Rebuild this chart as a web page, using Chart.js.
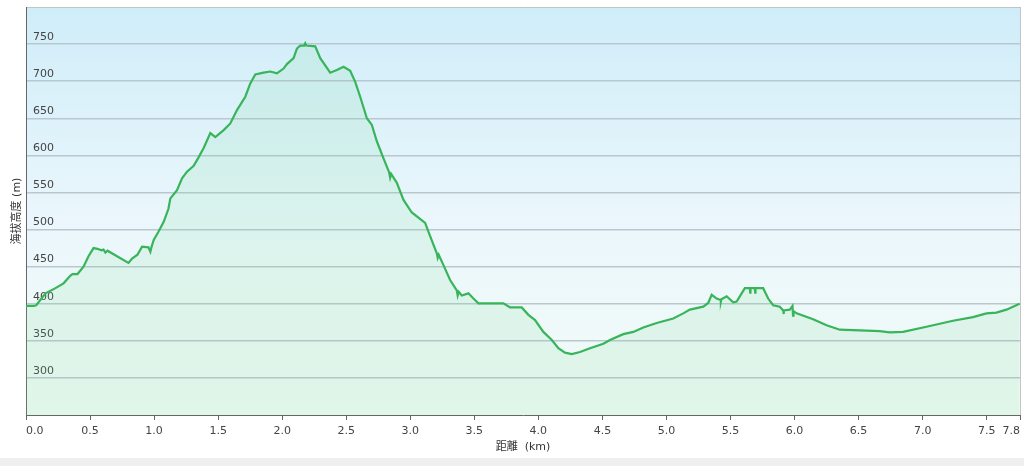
<!DOCTYPE html>
<html>
<head>
<meta charset="utf-8">
<script src="https://cdn.jsdelivr.net/npm/chart.js@4.4.1/dist/chart.umd.min.js"></script>
<style>
  html, body { margin: 0; padding: 0; background: #efefef; }
  #wrap { width: 1024px; height: 458px; background: #ffffff; }
  canvas { display: block; }
</style>
</head>
<body>
<div id="wrap"><canvas id="c" width="1024" height="458"></canvas></div>
<script>
// distance along route (km)
const distanceKm = [
  0.00, 0.06, 0.08, 0.152, 0.230, 0.293, 0.347, 0.363, 0.402, 0.449,
  0.488, 0.527, 0.558, 0.589, 0.605, 0.620, 0.636, 0.800, 0.828, 0.870,
  0.906, 0.956, 0.971, 0.979, 0.997, 1.034, 1.075, 1.112, 1.127, 1.179,
  1.218, 1.257, 1.309, 1.346, 1.387, 1.439, 1.478, 1.543, 1.595, 1.647,
  1.712, 1.751, 1.790, 1.855, 1.907, 1.959, 2.011, 2.037, 2.089, 2.115,
  2.141, 2.172, 2.180, 2.188, 2.258, 2.297, 2.375, 2.427, 2.479, 2.531,
  2.570, 2.609, 2.661, 2.700, 2.739, 2.791, 2.835, 2.843, 2.851, 2.895,
  2.947, 3.012, 3.116, 3.155, 3.207, 3.214, 3.222, 3.259, 3.311, 3.363,
  3.370, 3.378, 3.402, 3.454, 3.493, 3.532, 3.701, 3.727, 3.779, 3.870,
  3.922, 3.974, 4.039, 4.105, 4.156, 4.208, 4.261, 4.325, 4.403, 4.507,
  4.559, 4.663, 4.741, 4.819, 4.924, 5.053, 5.131, 5.183, 5.287, 5.326,
  5.353, 5.392, 5.423, 5.425, 5.429, 5.470, 5.521, 5.548, 5.587, 5.612,
  5.651, 5.654, 5.656, 5.690, 5.693, 5.695, 5.755, 5.794, 5.833, 5.885,
  5.911, 5.914, 5.917, 5.963, 5.984, 5.988, 5.992, 6.016, 6.145, 6.250,
  6.353, 6.457, 6.665, 6.743, 6.847, 7.030, 7.237, 7.393, 7.498, 7.576,
  7.654, 7.757
];
// elevation (m)
const elevationM = [
  397, 397, 398, 414, 421, 427.5, 438, 440, 440, 450,
  464, 475, 474, 472, 473, 469, 471.5, 455, 461, 466,
  477, 476, 470, 476, 486, 497, 510.5, 528, 542, 553,
  569, 578, 586, 597, 610, 630, 624.5, 634, 643, 661,
  679, 697, 709, 711.5, 713, 710.5, 717, 723, 731, 744,
  748, 748, 751, 748, 747, 731, 711.5, 715, 719.5, 714,
  699, 679, 650, 641, 619, 596, 577, 570, 575, 563,
  540, 523, 509, 491, 468, 462, 466, 452, 432, 418,
  411, 416, 411, 414, 407, 400.5, 400.5, 400.5, 395, 395,
  385, 378, 362, 351, 340, 334, 332, 335, 340, 346,
  351, 359, 362, 368, 374, 380, 387, 392, 396, 401,
  412, 407, 405, 403, 406, 410, 402, 403, 414, 421,
  421, 415, 421, 421, 415, 421, 421, 407, 398, 396,
  391, 386, 391, 392, 397, 384, 390, 387, 379, 371,
  365, 364.5, 363, 361.5, 362, 369, 377, 382, 387, 388,
  392, 400
];
// axis ticks
const xTickValues = [0, 0.5, 1.0, 1.5, 2.0, 2.5, 3.0, 3.5, 4.0, 4.5, 5.0, 5.5, 6.0, 6.5, 7.0, 7.5, 7.76];
const xTickLabels = ['0.0', '0.5', '1.0', '1.5', '2.0', '2.5', '3.0', '3.5', '4.0', '4.5', '5.0', '5.5', '6.0', '6.5', '7.0', '7.5', '7.8'];
const yTickValues = [250, 300, 350, 400, 450, 500, 550, 600, 650, 700, 750, 800];
const yTickLabels = ['', '300', '350', '400', '450', '500', '550', '600', '650', '700', '750', ''];
const xMin = 0, xMax = 7.76, yMin = 250, yMax = 800;

const points = distanceKm.map((d, i) => ({ x: d, y: elevationM[i] }));

const bgPlugin = {
  id: 'plotBg',
  beforeDraw(chart) {
    const { ctx, chartArea: a } = chart;
    const g = ctx.createLinearGradient(0, a.top, 0, a.bottom);
    g.addColorStop(0, '#cfedf9');
    g.addColorStop(0.55, '#ecf7fc');
    g.addColorStop(1, '#f1fbf6');
    ctx.save();
    ctx.fillStyle = g;
    ctx.fillRect(a.left, a.top, a.right - a.left, a.bottom - a.top);
    ctx.restore();
  }
};

const FONT = 'DejaVu Sans, Verdana, sans-serif';

new Chart(document.getElementById('c'), {
  type: 'line',
  data: {
    datasets: [{
      data: points,
      borderColor: '#38b45a',
      borderWidth: 2.2,
      backgroundColor: 'rgba(110, 215, 140, 0.13)',
      fill: 'start',
      pointRadius: 0,
      tension: 0
    }]
  },
  options: {
    responsive: false,
    animation: false,
    devicePixelRatio: 1,
    layout: { padding: { top: 7, right: 4, left: 0, bottom: 0 } },
    plugins: { legend: { display: false }, tooltip: { enabled: false } },
    scales: {
      x: {
        type: 'linear',
        min: xMin,
        max: xMax,
        afterBuildTicks(scale) { scale.ticks = xTickValues.map(v => ({ value: v })); },
        afterFit(scale) { scale.height = 43; scale.paddingLeft = 0; scale.paddingRight = 0; },
        ticks: {
          align: 'inner',
          autoSkip: false,
          maxRotation: 0,
          padding: 5,
          color: '#444',
          font: { family: FONT, size: 11 },
          callback(value) {
            const i = xTickValues.indexOf(value);
            return i >= 0 ? xTickLabels[i] : '';
          }
        },
        grid: {
          drawOnChartArea: true,
          color(ctx) { return ctx.tick && ctx.tick.value === xMax ? '#c4c4c4' : 'rgba(0,0,0,0)'; },
          tickColor: '#666',
          tickLength: 5,
          lineWidth: 1
        },
        border: { color: '#666', width: 1 },
        title: {
          display: true,
          text: '距離  (km)',
          color: '#333',
          font: { family: 'DejaVu Sans, Noto Sans CJK JP, sans-serif', size: 11 },
          padding: { top: 0, bottom: 4 }
        }
      },
      y: {
        type: 'linear',
        min: yMin,
        max: yMax,
        afterBuildTicks(scale) { scale.ticks = yTickValues.map(v => ({ value: v })); },
        afterFit(scale) { scale.width = 26; scale.paddingTop = 0; scale.paddingBottom = 0; },
        ticks: {
          mirror: true,
          padding: 7,
          labelOffset: -7,
          color: '#444',
          font: { family: FONT, size: 11 },
          callback(value) {
            const i = yTickValues.indexOf(value);
            return i >= 0 ? yTickLabels[i] : '';
          }
        },
        grid: {
          drawTicks: false,
          color(ctx) {
            const v = ctx.tick && ctx.tick.value;
            if (v === yMax) return '#c4c4c4';
            if (v === yMin) return 'rgba(0,0,0,0)';
            return '#b9c7cf';
          },
          lineWidth(ctx) { return ctx.tick && (ctx.tick.value === yMax) ? 1 : 1.5; }
        },
        border: { color: '#666', width: 1 },
        title: {
          display: true,
          text: '海拔高度 (m)',
          color: '#333',
          font: { family: 'DejaVu Sans, Noto Sans CJK JP, sans-serif', size: 11 },
          padding: { top: 11, bottom: 0 }
        }
      }
    }
  },
  plugins: [bgPlugin]
});
</script>
</body>
</html>
